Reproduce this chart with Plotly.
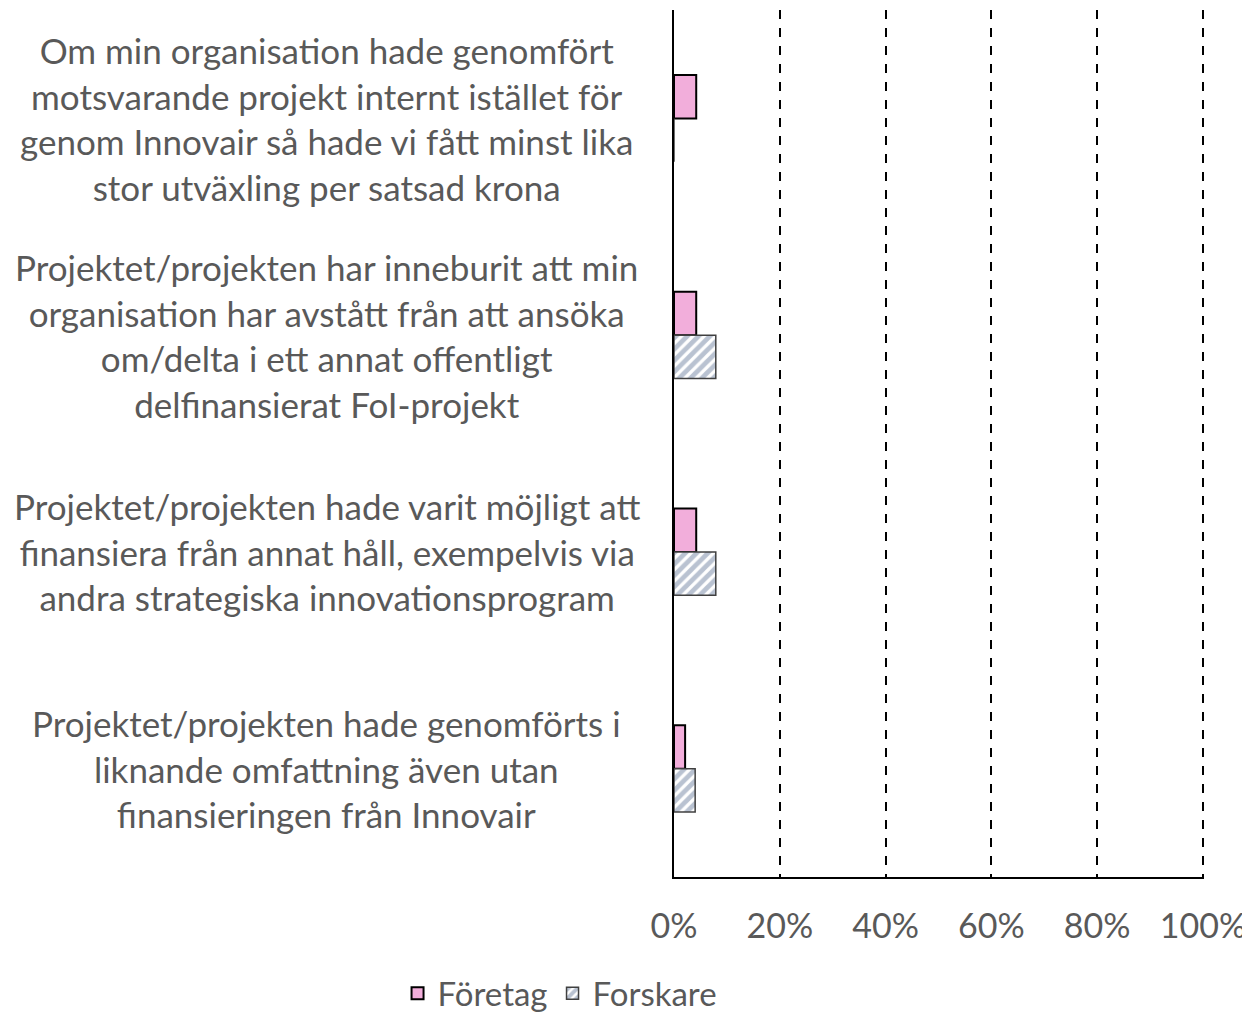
import plotly.graph_objects as go

# statements, listed top to bottom as in the chart
categories = [
    "Om min organisation hade genomfört<br>motsvarande projekt internt istället för<br>genom Innovair så hade vi fått minst lika<br>stor utväxling per satsad krona",
    "Projektet/projekten har inneburit att min<br>organisation har avstått från att ansöka<br>om/delta i ett annat offentligt<br>delfinansierat FoI-projekt",
    "Projektet/projekten hade varit möjligt att<br>finansiera från annat håll, exempelvis via<br>andra strategiska innovationsprogram",
    "Projektet/projekten hade genomförts i<br>liknande omfattning även utan<br>finansieringen från Innovair",
]
foretag = [0.042, 0.042, 0.042, 0.021]
forskare = [0.0, 0.079, 0.079, 0.04]
x_ticks = [0, 0.2, 0.4, 0.6, 0.8, 1.0]

grey = "#595959"
font_family = "Lato, 'Open Sans', sans-serif"

fig = go.Figure()
fig.add_trace(go.Bar(
    y=categories, x=foretag, name="Företag", orientation="h",
    marker=dict(color="#F2AEDB", line=dict(color="black", width=2)),
))
fig.add_trace(go.Bar(
    y=categories, x=forskare, name="Forskare", orientation="h",
    marker=dict(
        color="white",
        pattern=dict(shape="/", fgcolor="#7486A3", bgcolor="white", size=8, solidity=0.6),
        line=dict(color="#404040", width=1.5),
    ),
))

for cat in categories:
    fig.add_annotation(
        x=-0.655, xref="paper", y=cat, yref="y",
        text=cat, showarrow=False, xanchor="center", yanchor="middle",
        align="center", font=dict(size=35, color=grey, family=font_family),
    )

fig.update_xaxes(
    range=[0, 1.002], tickvals=x_ticks, tickformat=".0%",
    showgrid=True, gridcolor="black", gridwidth=1.5, griddash="dash",
    showline=True, linecolor="black", linewidth=2,
    zeroline=False, ticks="", ticklabelstandoff=18, automargin=False,
    tickfont=dict(size=34, color=grey, family=font_family),
)
fig.update_yaxes(
    autorange="reversed", showticklabels=False, showgrid=False,
    showline=True, linecolor="black", linewidth=2, zeroline=False, ticks="",
    automargin=False,
)
# the page body adds an 8px margin, so the figure is 8px smaller
fig.update_layout(
    width=1242, height=1004,
    margin=dict(l=666, r=46, t=2, b=135, autoexpand=False),
    barmode="group", bargap=0.6,
    plot_bgcolor="white", paper_bgcolor="white",
    showlegend=True,
    legend=dict(
        orientation="h", x=-0.215, xanchor="center", y=-0.134, yanchor="middle",
        font=dict(size=33, color=grey, family=font_family),
    ),
)

fig.write_html("out.html")
